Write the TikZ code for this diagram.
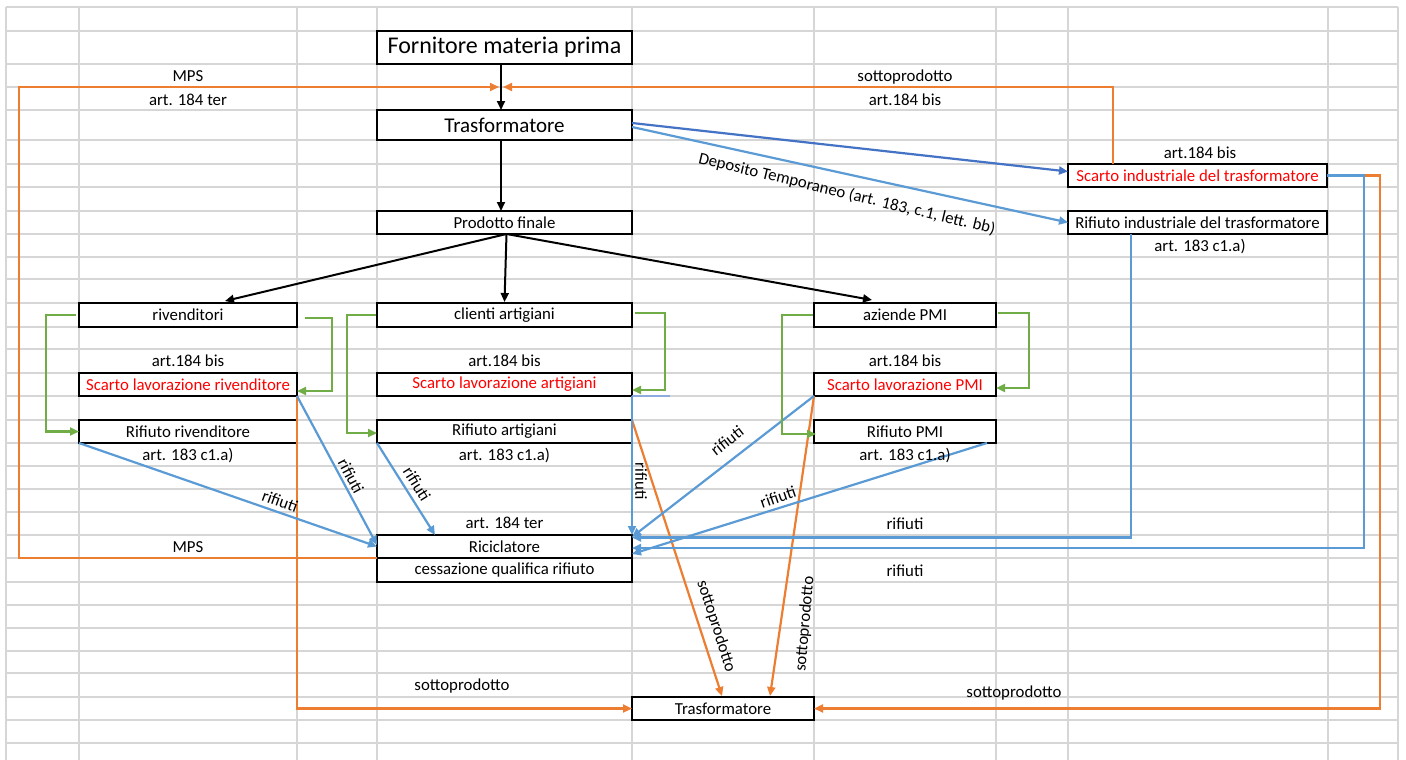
\documentclass[tikz,border=0pt]{standalone}
\usepackage{fontspec}
\setmainfont{Carlito}
\usetikzlibrary{arrows.meta,calc}
\definecolor{xlorange}{HTML}{ED7D31}
\definecolor{xlblue}{HTML}{5B9BD5}
\definecolor{xldarkblue}{HTML}{4472C4}
\definecolor{xlgreen}{HTML}{70AD47}
\definecolor{xlred}{HTML}{FF0000}
\definecolor{gridgray}{HTML}{D6D6D6}
\definecolor{stubblue}{HTML}{8FAADC}
\begin{document}
\begin{tikzpicture}[x=1pt,y=-1pt,
  txt/.style={font=\fontsize{16.8}{19}\selectfont},
  box/.style={draw=black, line width=2.4pt, fill=white, inner sep=0pt, outer sep=0pt, txt},
  redtxt/.style={text=xlred},
  lbl/.style={inner sep=0pt, txt},
  tip/.style={-{Triangle[length=9pt,width=8pt]}},
  blk/.style={draw=black, line width=2pt, tip},
  org/.style={draw=xlorange, line width=2.2pt, tip},
  lblu/.style={draw=xlblue, line width=2.2pt, tip},
  dblu/.style={draw=xldarkblue, line width=2.2pt, tip},
  grn/.style={draw=xlgreen, line width=2.2pt, tip},
  stub/.style={draw=stubblue, line width=2pt},
  gridline/.style={draw=gridgray, line width=1.2pt}
]
\useasboundingbox (0,0) rectangle (1406,760);
\fill[white] (0,0) rectangle (1406,760);

% spreadsheet grid
\foreach \gx in {6,79,297,377,632,814,996,1068,1328,1398}
  \draw[gridline] (\gx,7) -- (\gx,760);
\foreach \gy in {7,31,64,87,110,140,164,187,211,234,257,279,303,327,349,373,396,420,443,466,489,512,535,558,582,605,628,651,673,697,720,743}
  \draw[gridline] (6,\gy) -- (1398,\gy);

% boxes
\node[box, minimum width=255pt, minimum height=33pt, font=\fontsize{24}{26}\selectfont] (forn) at (504.5,47.5) {Fornitore materia prima};
\node[box, minimum width=255pt, minimum height=30pt, font=\fontsize{21}{23}\selectfont] (tr1) at (504.5,125) {Trasformatore};
\node[box, minimum width=255pt, minimum height=23pt] (prod) at (504.5,222.5) {Prodotto finale};
\node[box, minimum width=218pt, minimum height=24pt] (riv) at (188,315) {rivenditori};
\node[box, minimum width=255pt, minimum height=24pt] (cli) at (504.5,315) {clienti artigiani};
\node[box, minimum width=182pt, minimum height=24pt] (pmi) at (905,315) {aziende PMI};
\node[box, redtxt, minimum width=218pt, minimum height=23pt] (scR) at (188,384.5) {Scarto lavorazione rivenditore};
\node[box, redtxt, minimum width=255pt, minimum height=23pt] (scA) at (504.5,384.5) {Scarto lavorazione artigiani};
\node[box, redtxt, minimum width=182pt, minimum height=23pt] (scP) at (905,384.5) {Scarto lavorazione PMI};
\node[box, minimum width=218pt, minimum height=23pt] (rfR) at (188,431.5) {Rifiuto rivenditore};
\node[box, minimum width=255pt, minimum height=23pt] (rfA) at (504.5,431.5) {Rifiuto artigiani};
\node[box, minimum width=182pt, minimum height=23pt] (rfP) at (905,431.5) {Rifiuto PMI};
\node[box, minimum width=255pt, minimum height=23pt] (ric) at (504.5,546.5) {Riciclatore};
\node[box, minimum width=255pt, minimum height=24pt] (cess) at (504.5,570) {cessazione qualifica rifiuto};
\node[box, minimum width=182pt, minimum height=23pt] (tr2) at (723,708.5) {Trasformatore};
\node[box, redtxt, minimum width=259pt, minimum height=23pt] (scI) at (1197.5,175.5) {Scarto industriale del trasformatore};
\node[box, minimum width=259pt, minimum height=23pt] (rfI) at (1197.5,222.5) {Rifiuto industriale del trasformatore};

% junction above the first transformer
\coordinate (jn) at (501,87);

% main product flow
\draw[blk] ([xshift=-3.5pt]forn.south) -- ([xshift=-3.5pt]tr1.north);
\draw[blk] ([xshift=-3.5pt]tr1.south) -- ([xshift=-3.5pt]prod.north);
\coordinate (pf) at ([xshift=2pt]prod.south);
\draw[blk] (pf) -- ([xshift=37pt,yshift=2pt]riv.north);
\draw[blk] (pf) -- ([yshift=1pt]cli.north);
\draw[blk] (pf) -- ([xshift=-33pt,yshift=3pt]pmi.north);

% by-products and secondary raw materials
\draw[org] (ric.south west) -- (19,558) |- ([xshift=-2pt]jn);
\draw[org] ([xshift=45pt]scI.north west) |- ([xshift=2pt]jn);
\draw[org] (scR.south east) |- (tr2.west);
\draw[org] (scI.east) -- (1380,175.5) |- (tr2.east);
\draw[org] (rfA.north east) -- ([xshift=-1pt,yshift=1pt]tr2.north);
\draw[org] (scP.south west) -- ([xshift=47pt,yshift=1pt]tr2.north);

% waste flows
\draw[dblu] ([yshift=2pt]tr1.east) -- ([yshift=4pt]scI.west);
\draw[lblu] ([yshift=-2pt]tr1.east) -- (rfI.west);
\draw[lblu] ([xshift=-66.5pt]rfI.south) |- ([yshift=9pt]ric.east);
\draw[lblu] (scI.east) -- (1364,175.5) |- ([yshift=-1.5pt]ric.east);
\draw[lblu] (rfR.south west) -- (ric.west);
\draw[lblu] (scR.south east) -- ([yshift=1.5pt]ric.west);
\draw[lblu] (rfA.south west) -- ([xshift=58pt]ric.north west);
\draw[stub] (scA.south east) -- ++(38,0);
\draw[lblu] (scA.south east) -- (ric.north east);
\draw[lblu] (scP.south west) -- ([yshift=-2pt]ric.north east);
\draw[lblu] ([xshift=-9pt]rfP.south east) -- ([yshift=-7.5pt]ric.east);

% production scraps and waste of each customer
\draw[grn] ([xshift=-3pt]riv.west) -- ++(-30,0) |- (rfR.west);
\draw[grn] ([xshift=8pt,yshift=-3pt]riv.east) -- ++(27,0) |- ([yshift=-6.5pt]scR.east);
\draw[grn] ([xshift=-1pt]cli.west) -- ++(-29,0) |- ([yshift=-1.5pt]rfA.west);
\draw[grn] ([xshift=3pt,yshift=2pt]cli.east) -- ++(30,0) |- ([yshift=-5.5pt]scA.east);
\draw[grn] ([xshift=-1pt]pmi.west) -- ++(-31,0) |- ([xshift=2pt,yshift=-2.5pt]rfP.west);
\draw[grn] ([xshift=2pt,yshift=2pt]pmi.east) -- ++(31,0) |- ([yshift=-3.5pt]scP.east);

% labels
\node[lbl] (l1) at (188,76) {MPS};
\node[lbl] (l2) at (188,100) {art. 184 ter};
\node[lbl] (l3) at (905,77) {sottoprodotto};
\node[lbl] (l4) at (905,100) {art.184 bis};
\node[lbl] (l5) at (1200,153) {art.184 bis};
\node[lbl] (l6) at (1200,247) {art. 183 c1.a)};
\node[lbl, rotate=-13.5] (l7) at (847,194) {Deposito Temporaneo (art. 183, c.1, lett. bb)};
\node[lbl] (l8) at (188,361) {art.184 bis};
\node[lbl] (l9) at (504.5,361) {art.184 bis};
\node[lbl] (l10) at (905,361) {art.184 bis};
\node[lbl] (l11) at (188,456) {art. 183 c1.a)};
\node[lbl] (l12) at (504.5,456) {art. 183 c1.a)};
\node[lbl] (l13) at (905,456) {art. 183 c1.a)};
\node[lbl] (l14) at (504.5,523) {art. 184 ter};
\node[lbl] (l15) at (188,547) {MPS};
\node[lbl, rotate=-20] (l16) at (280,501) {rifiuti};
\node[lbl, rotate=-62] (l17) at (351,476) {rifiuti};
\node[lbl, rotate=-58] (l18) at (417,484) {rifiuti};
\node[lbl, rotate=-90] (l19) at (641,481) {rifiuti};
\node[lbl, rotate=38] (l20) at (727,441) {rifiuti};
\node[lbl, rotate=19] (l21) at (778,497) {rifiuti};
\node[lbl] (l22) at (905,524) {rifiuti};
\node[lbl] (l23) at (905,571) {rifiuti};
\node[lbl, rotate=-72] (l24) at (716,626) {sottoprodotto};
\node[lbl, rotate=85] (l25) at (805,624) {sottoprodotto};
\node[lbl] (l26) at (462,686) {sottoprodotto};
\node[lbl] (l27) at (1014,693) {sottoprodotto};
\end{tikzpicture}
\end{document}
